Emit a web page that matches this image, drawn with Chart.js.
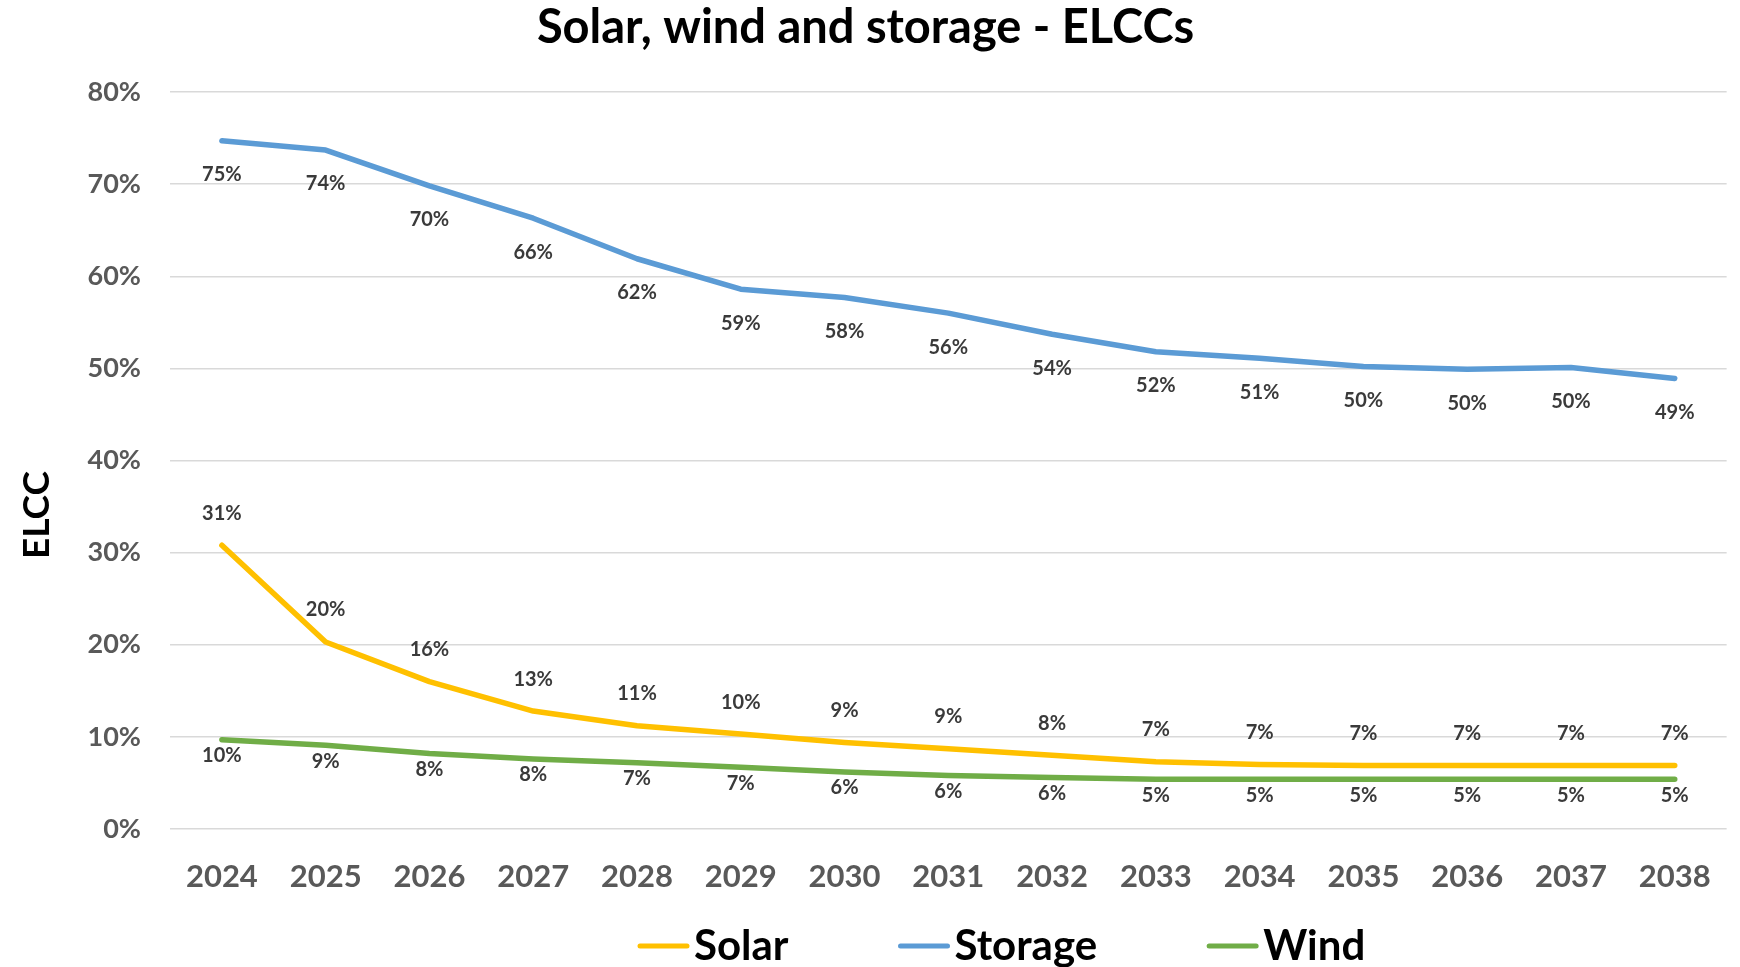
<!DOCTYPE html>
<html>
<head>
<meta charset="utf-8">
<title>Solar, wind and storage - ELCCs</title>
<script src="https://cdn.jsdelivr.net/npm/chart.js@4.4.1/dist/chart.umd.min.js"></script>
<style>
  html, body { margin: 0; padding: 0; background: #fff; }
  #wrap { width: 1740px; height: 967px; }
</style>
</head>
<body>
<div id="wrap"><canvas id="elcc" width="1740" height="967"></canvas></div>
<script>
// ELCC by year, in percent
const years = ['2024', '2025', '2026', '2027', '2028', '2029', '2030', '2031',
               '2032', '2033', '2034', '2035', '2036', '2037', '2038'];
const solar   = [30.8, 20.3, 16.0, 12.8, 11.2, 10.3, 9.4, 8.7, 8.0, 7.3, 7.0, 6.9, 6.9, 6.9, 6.9];
const storage = [74.7, 73.7, 69.8, 66.3, 61.9, 58.6, 57.7, 56.0, 53.7, 51.8, 51.1, 50.2, 49.9, 50.1, 48.9];
const wind    = [9.7, 9.1, 8.2, 7.6, 7.2, 6.7, 6.2, 5.8, 5.6, 5.4, 5.4, 5.4, 5.4, 5.4, 5.4];
const yTickLabels = ['0%', '10%', '20%', '30%', '40%', '50%', '60%', '70%', '80%'];

const fontFamily = "Lato, 'Open Sans', sans-serif";

// value labels next to each point
const pointLabels = {
    id: 'pointLabels',
    afterDatasetsDraw(chart) {
        const ctx = chart.ctx;
        ctx.save();
        ctx.font = 'bold 20px ' + fontFamily;
        ctx.fillStyle = '#3a3a3a';
        ctx.textAlign = 'center';
        ctx.textBaseline = 'middle';
        chart.data.datasets.forEach(function(ds, i) {
            chart.getDatasetMeta(i).data.forEach(function(pt, j) {
                ctx.fillText(Math.round(ds.data[j]) + '%', pt.x, pt.y + ds.labelOffset);
            });
        });
        ctx.restore();
    }
};

// vertical axis title, placed like the excel one
const axisTitle = {
    id: 'axisTitle',
    afterDraw(chart) {
        const ctx = chart.ctx;
        ctx.save();
        ctx.translate(37, 515);
        ctx.rotate(-Math.PI / 2);
        ctx.font = 'bold 37px ' + fontFamily;
        ctx.fillStyle = '#000';
        ctx.textAlign = 'center';
        ctx.textBaseline = 'middle';
        ctx.fillText('ELCC', 0, 0);
        ctx.restore();
    }
};

// legend row at the bottom (line swatch + label)
const bottomLegend = {
    id: 'bottomLegend',
    afterDraw(chart) {
        const ctx = chart.ctx;
        let x = 637;
        const y = 946;
        ctx.save();
        ctx.font = 'bold 42px ' + fontFamily;
        ctx.textBaseline = 'middle';
        ctx.textAlign = 'left';
        chart.data.datasets.forEach(function(ds) {
            ctx.strokeStyle = ds.borderColor;
            ctx.lineWidth = 5;
            ctx.lineCap = 'round';
            ctx.beginPath();
            ctx.moveTo(x + 3, y);
            ctx.lineTo(x + 50, y);
            ctx.stroke();
            x += 57;
            ctx.fillStyle = '#000';
            ctx.fillText(ds.label, x, y);
            x += ctx.measureText(ds.label).width + 109;
        });
        ctx.restore();
    }
};

function line_dataset(label, values, color, offset) {
    return {
        label: label,
        data: values,
        borderColor: color,
        backgroundColor: color,
        borderWidth: 5.5,
        borderCapStyle: 'round',
        borderJoinStyle: 'round',
        pointRadius: 0,
        pointHoverRadius: 0,
        tension: 0,
        fill: false,
        labelOffset: offset
    };
}

new Chart(document.getElementById('elcc'), {
    type: 'line',
    data: {
        labels: years,
        datasets: [
            line_dataset('Solar', solar, '#FFC000', -32),
            line_dataset('Storage', storage, '#5B9BD5', 34),
            line_dataset('Wind', wind, '#70AD47', 16)
        ]
    },
    options: {
        responsive: false,
        animation: false,
        layout: { padding: { left: 0, right: 9, top: 0, bottom: 0 } },
        plugins: {
            legend: { display: false },
            tooltip: { enabled: false },
            title: {
                display: true,
                text: 'Solar, wind and storage - ELCCs',
                color: '#000',
                font: { family: fontFamily, size: 47, weight: 'bold' },
                padding: { top: 0, bottom: 35.6 }
            }
        },
        scales: {
            x: {
                offset: true,
                grid: { display: false, drawTicks: false },
                border: { display: false },
                ticks: {
                    color: '#595959',
                    padding: 29,
                    maxRotation: 0,
                    font: { family: fontFamily, size: 31, weight: 'bold' }
                },
                afterFit: function(scale) { scale.height = 138; }
            },
            y: {
                min: 0,
                max: 80,
                grid: { color: '#D9D9D9', lineWidth: 1.5, drawTicks: false },
                border: { display: false },
                ticks: {
                    stepSize: 10,
                    color: '#595959',
                    padding: 29,
                    font: { family: fontFamily, size: 27, weight: 'bold' },
                    callback: function(v, i) { return yTickLabels[i]; }
                },
                afterFit: function(scale) { scale.width = 170; }
            }
        }
    },
    plugins: [pointLabels, axisTitle, bottomLegend]
});
</script>
</body>
</html>
